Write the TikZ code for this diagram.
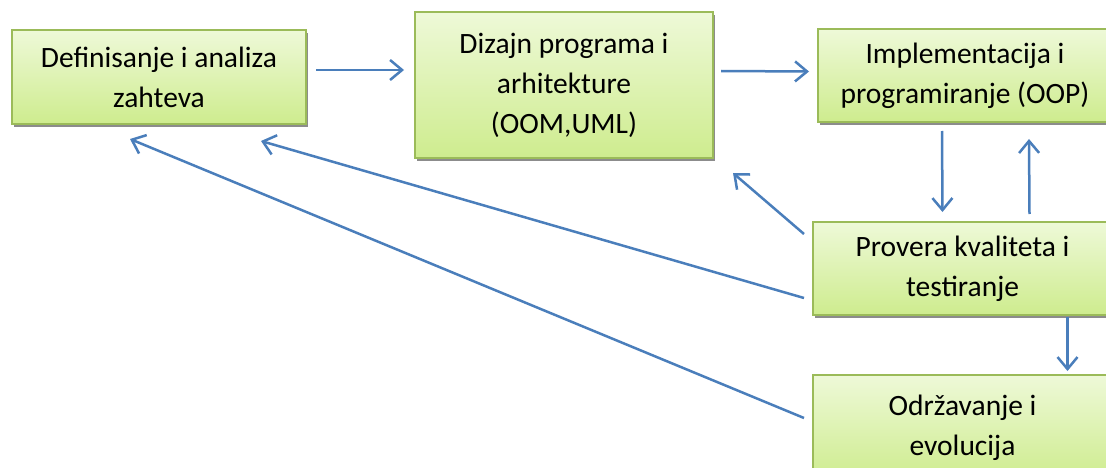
\documentclass[tikz,border=0pt]{standalone}
\usepackage{fontspec}
\setmainfont{Carlito}
\usetikzlibrary{calc,shadows,arrows.meta}
\definecolor{rub}{RGB}{155,187,89}
\definecolor{gore}{RGB}{238,249,216}
\definecolor{dole}{RGB}{206,236,142}
\definecolor{strelica}{RGB}{74,126,187}
\tikzset{
  faza/.style={draw=rub, line width=2pt, top color=gore, bottom color=dole,
    inner sep=0pt, align=center, font=\fontsize{29.5}{40}\selectfont,
    drop shadow={shadow xshift=2pt,shadow yshift=-3pt,fill=black!45,opacity=1}},
  veza/.style={draw=strelica, line width=2.5pt, -{Straight Barb[length=12pt,width=20pt]}}
}
\begin{document}
\begin{tikzpicture}[x=1pt,y=-1pt]
                \useasboundingbox (0,0) rectangle (1106,468);
                \node[faza,minimum width=294,minimum height=94] (def) at (159,77) {Definisanje i analiza\\zahteva};
                \node[faza,minimum width=298,minimum height=146] (diz) at (564,85) {Dizajn programa i\\arhitekture\\(OOM,UML)};
                \node[faza,minimum width=294,minimum height=93] (impl) at (965,75.5) {Implementacija i\\programiranje (OOP)};
                \node[faza,minimum width=299,minimum height=93] (prov) at (962.5,268.5) {Provera kvaliteta i\\testiranje};
                \node[faza,minimum width=299,minimum height=105] (odr) at (962.5,427.5) {Održavanje i\\evolucija};
                \draw[veza] ($(def.east)+(9,-7)$) -- ($(diz.west)+(-10,-15)$);
                \draw[veza] ($(diz.east)+(7,-14)$) -- ($(impl.west)+(-8,-4)$);
                \draw[veza] ($(impl.south)+(-23,8)$) -- ($(prov.north)+(-20,-9)$);
                \draw[veza] ($(prov.north)+(67,-7)$) -- ($(impl.south)+(64,16)$);
                \draw[veza] ($(prov.south)+(105,1)$) -- ($(odr.north)+(105,-3)$);
                \draw[veza] ($(prov.north west)+(-8,13)$) -- ($(diz.south east)+(19,14)$);
                \draw[veza] ($(prov.south west)+(-8,-18)$) -- ($(def.south east)+(-46,16)$);
                \draw[veza] ($(odr.west)+(-8,-9.5)$) -- ($(def.south)+(-29,14)$);
            \end{tikzpicture}
\end{document}
